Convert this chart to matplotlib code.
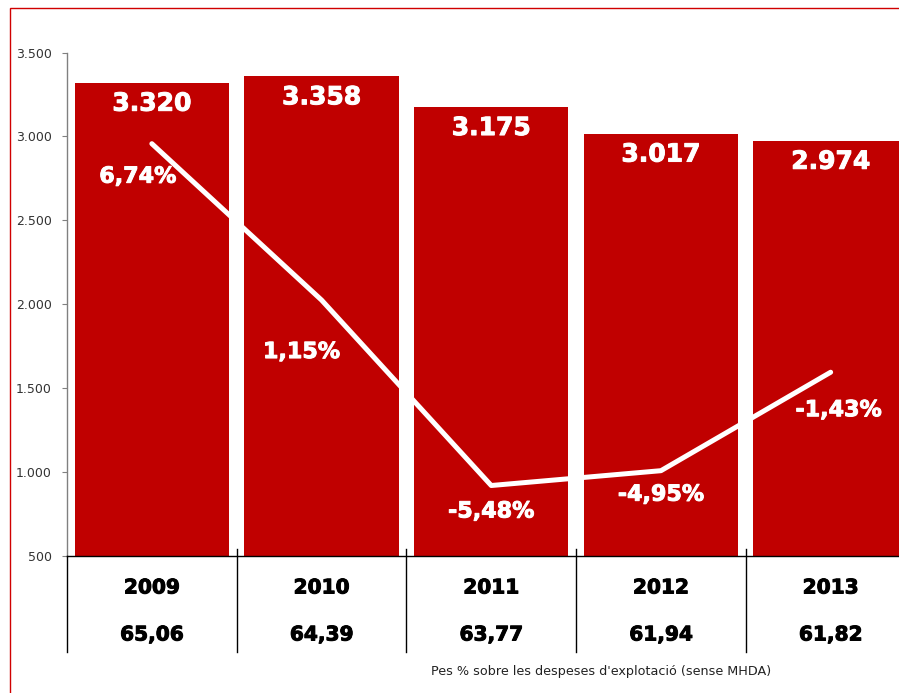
import matplotlib.pyplot as plt
import matplotlib.transforms as mtransforms
import matplotlib.patheffects as pe
from matplotlib.patches import Rectangle
from matplotlib.ticker import FuncFormatter

years = ['2009', '2010', '2011', '2012', '2013']
amounts = [3320, 3358, 3175, 3017, 2974]
growth = [6.74, 1.15, -5.48, -4.95, -1.43]
weights = [65.06, 64.39, 63.77, 61.94, 61.82]
note = "Pes % sobre les despeses d'explotació (sense MHDA)"

# label offsets for the % labels, in pixels (dx, dy down)
pct_offsets = [(-14, 33), (-20, 52), (0, 26), (0, 24), (8, 38)]

red = '#c00000'
px = 0.72  # points per pixel at dpi=100


def heavy(c):
    # thicken bold text a bit (Verdana Bold look)
    return [pe.withStroke(linewidth=0.7, foreground=c)]


fig = plt.figure(figsize=(8.99, 6.93), dpi=100)
ax = fig.add_axes([67 / 899, 137 / 693, 848.5 / 899, 503.5 / 693])

x = range(len(years))
ax.bar(x, amounts, width=0.91, color=red, zorder=2)
ax.set_xlim(-0.5, 4.5)
ax.set_ylim(500, 3500)
ax.set_yticks(range(500, 3501, 500))
ax.yaxis.set_major_formatter(FuncFormatter(lambda v, p: f"{int(v):,}".replace(',', '.')))
ax.tick_params(axis='y', length=5 * px, color='#808080', labelsize=9,
               labelcolor='#333333', pad=10 * px)
ax.set_xticks([])
for s in ['top', 'right']:
    ax.spines[s].set_visible(False)
ax.spines['left'].set_color('#808080')
ax.spines['left'].set_linewidth(1)
ax.spines['bottom'].set_color('black')
ax.spines['bottom'].set_linewidth(1)

# valors a dalt de les barres
for i, v in enumerate(amounts):
    ax.annotate(f"{v:,}".replace(',', '.'), (i, v), xytext=(0, -21 * px),
                textcoords='offset points', ha='center', va='center',
                color='white', fontsize=18, fontweight='bold', zorder=3,
                path_effects=heavy('white'))

# línia de creixement a l'eix secundari
ax2 = ax.twinx()
ax2.set_ylim(-8, 10)
ax2.axis('off')
ax2.plot(x, growth, color='white', lw=5 * px, solid_capstyle='round',
         solid_joinstyle='round')
for i, g in enumerate(growth):
    dx, dy = pct_offsets[i]
    ax2.annotate(f"{g:.2f}".replace('.', ',') + '%', (i, g),
                 xytext=(dx * px, -dy * px), textcoords='offset points',
                 ha='center', va='center', color='white', fontsize=16,
                 fontweight='bold', path_effects=heavy('white'))

# taula sota l'eix
trans = mtransforms.blended_transform_factory(ax.transData, ax.transAxes)
for i in x:
    ax.text(i, (556 - 588) / 503.5, years[i], transform=trans, ha='center',
            va='center', fontsize=14.5, fontweight='bold', color='black',
            path_effects=heavy('black'))
    ax.text(i, (556 - 635) / 503.5, f"{weights[i]:.2f}".replace('.', ','),
            transform=trans, ha='center', va='center', fontsize=14.5,
            fontweight='bold', color='black', path_effects=heavy('black'))
for k, xs in enumerate([-0.5, 0.5, 1.5, 2.5, 3.5]):
    top = 0 if k == 0 else 7 / 503.5
    ax.plot([xs, xs], [top, (556 - 652) / 503.5], transform=trans,
            color='black', lw=1, clip_on=False, zorder=4)

fig.text(601 / 899, 1 - 672 / 693, note, ha='center', va='center',
         fontsize=9.2, color='#222222')

border = Rectangle((9.5 / 899, -0.1), 1.2, 0.1 + 1 - 8.3 / 693,
                   transform=fig.transFigure, fill=False,
                   edgecolor='#d00000', lw=1)
fig.add_artist(border)

fig.savefig('out.png', dpi=100)
